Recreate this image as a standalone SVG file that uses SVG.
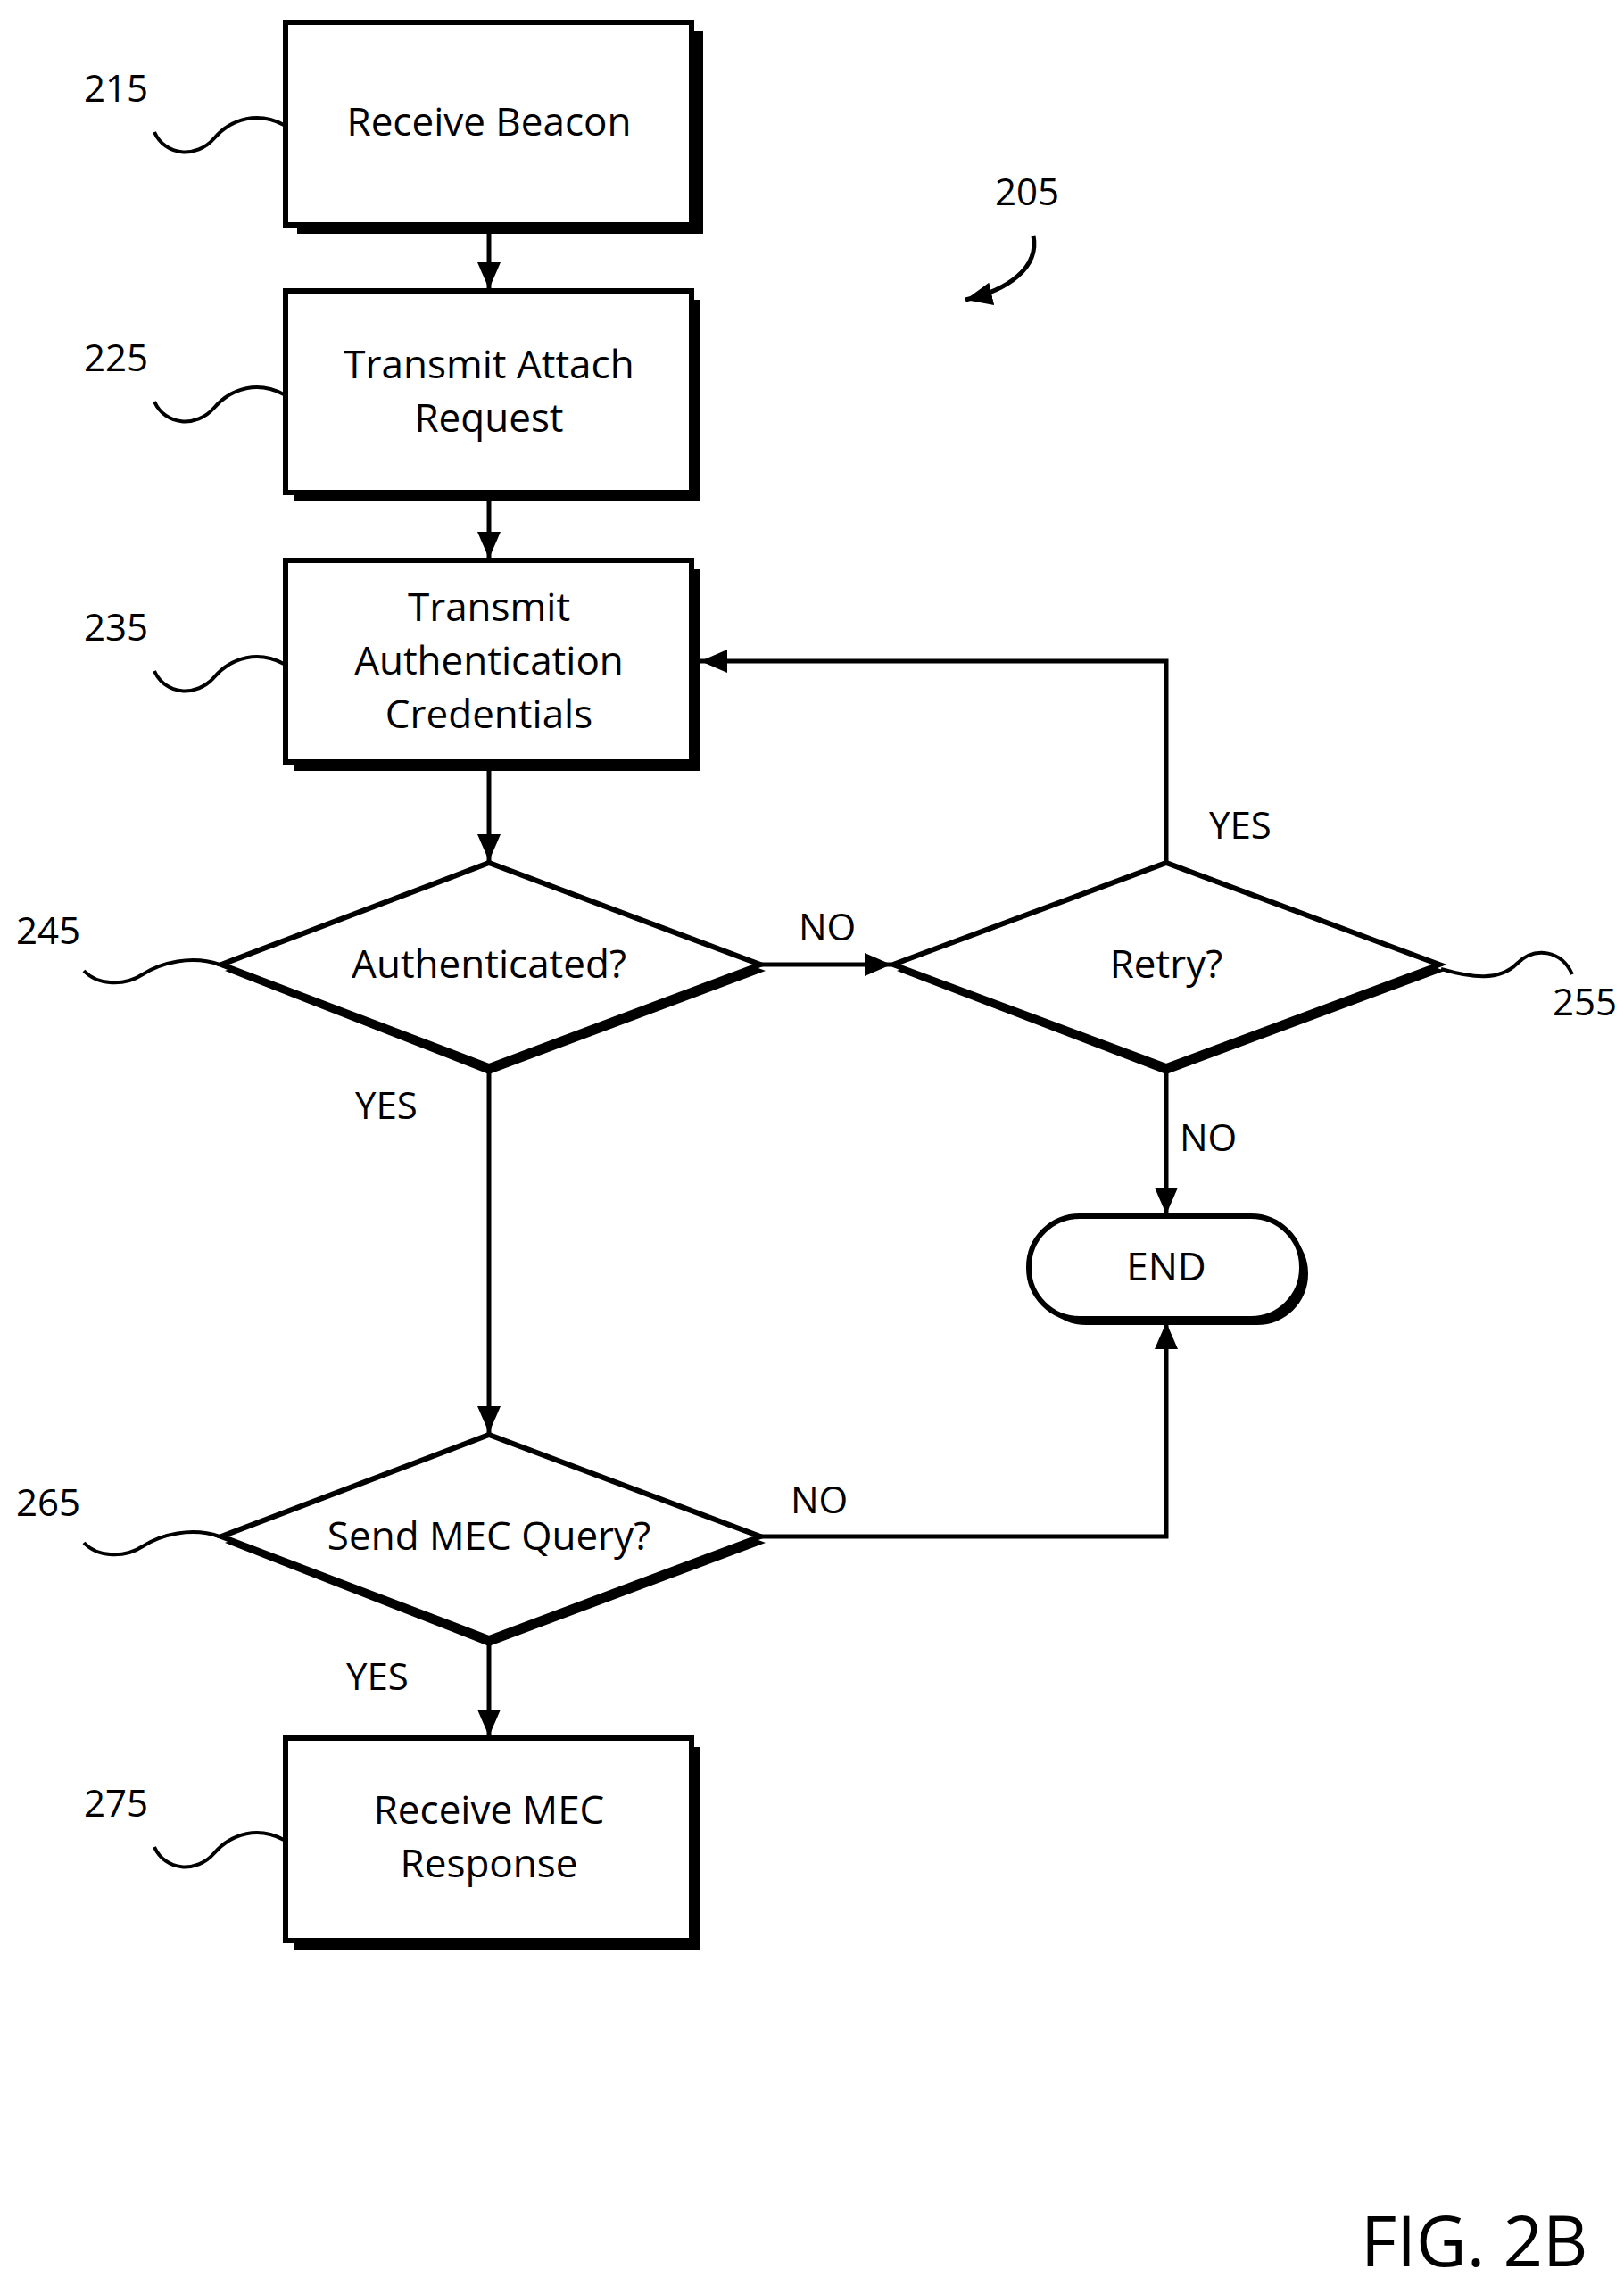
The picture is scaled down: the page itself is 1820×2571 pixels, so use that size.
<svg xmlns="http://www.w3.org/2000/svg" width="1820" height="2571" viewBox="0 0 1820 2571">
<style>
text{font-family:"Open Sans","Liberation Sans",sans-serif;fill:#000}
.t{font-size:44px;text-anchor:middle}
.n{font-size:42px}
.box{fill:#fff;stroke:#000;stroke-width:6}
.sh{fill:#000}
.c{fill:none;stroke:#000;stroke-width:5}
.sq{fill:none;stroke:#000;stroke-width:4}
</style>
<defs><marker id="a" viewBox="0 0 30 30" refX="30" refY="15" markerWidth="30" markerHeight="30" orient="auto" markerUnits="userSpaceOnUse"><path d="M0,2L30,15L0,28z"/></marker></defs>
<rect width="1820" height="2571" fill="#fff"/>
<g id="connectors">
<path class="c" d="M548,258V324" marker-end="url(#a)"/>
<path class="c" d="M548,558V626" marker-end="url(#a)"/>
<path class="c" d="M548,860V965" marker-end="url(#a)"/>
<path class="c" d="M852,1081H999" marker-end="url(#a)"/>
<path class="c" d="M1307,967V741H785" marker-end="url(#a)"/>
<path class="c" d="M1307,1195V1361" marker-end="url(#a)"/>
<path class="c" d="M548,1195V1606" marker-end="url(#a)"/>
<path class="c" d="M852,1722H1307V1482" marker-end="url(#a)"/>
<path class="c" d="M548,1836V1946" marker-end="url(#a)"/>
<path class="c" d="M1158,264C1165,300 1130,325 1082,336" marker-end="url(#a)"/>
<text class="n" x="1355" y="940">YES</text>
<text class="n" x="895" y="1054">NO</text>
<text class="n" x="398" y="1254">YES</text>
<text class="n" x="1322" y="1290">NO</text>
<text class="n" x="886" y="1696">NO</text>
<text class="n" x="388" y="1894">YES</text>
</g>
<g id="n215"><rect class="sh" x="333" y="35" width="455" height="227"/><rect class="box" x="320" y="25" width="455" height="227"/><text class="t" x="548" y="152">Receive Beacon</text><text class="n" x="94" y="114">215</text><path class="sq" d="M173,148C185,175 220,178 240,155S290,125 318,140"/></g>
<g id="n225"><rect class="sh" x="330" y="336" width="455" height="226"/><rect class="box" x="320" y="326" width="455" height="226"/><text class="t" x="548" y="424">Transmit Attach</text><text class="t" x="548" y="484">Request</text><text class="n" x="94" y="416">225</text><path class="sq" d="M173,450C185,477 220,480 240,457S290,427 318,442"/></g>
<g id="n235"><rect class="sh" x="330" y="638" width="455" height="226"/><rect class="box" x="320" y="628" width="455" height="226"/><text class="t" x="548" y="696">Transmit</text><text class="t" x="548" y="756">Authentication</text><text class="t" x="548" y="816">Credentials</text><text class="n" x="94" y="718">235</text><path class="sq" d="M173,752C185,779 220,782 240,759S290,729 318,744"/></g>
<g id="n245"><polygon class="sh" points="252,1088 548,974 858,1088 548,1204"/><polygon class="box" points="248,1081 548,967 852,1081 548,1195"/><text class="t" x="548" y="1096">Authenticated?</text><text class="n" x="18" y="1058">245</text><path class="sq" d="M94,1088C110,1105 140,1105 160,1092S215,1070 246,1081"/></g>
<g id="n255"><polygon class="sh" points="1005,1088 1307,974 1619,1088 1307,1204"/><polygon class="box" points="1001,1081 1307,967 1613,1081 1307,1195"/><text class="t" x="1307" y="1096">Retry?</text><text class="n" x="1740" y="1138">255</text><path class="sq" d="M1615,1086C1650,1096 1680,1100 1700,1080S1750,1065 1762,1092"/></g>
<g id="end"><rect class="sh" x="1160" y="1370" width="306" height="115" rx="57"/><rect class="box" x="1153" y="1363" width="306" height="115" rx="57"/><text class="t" x="1307" y="1435">END</text></g>
<g id="n265"><polygon class="sh" points="252,1729 548,1615 858,1729 548,1845"/><polygon class="box" points="248,1722 548,1608 852,1722 548,1836"/><text class="t" x="548" y="1737">Send MEC Query?</text><text class="n" x="18" y="1699">265</text><path class="sq" d="M94,1729C110,1746 140,1746 160,1733S215,1711 246,1722"/></g>
<g id="n275"><rect class="sh" x="330" y="1958" width="455" height="227"/><rect class="box" x="320" y="1948" width="455" height="227"/><text class="t" x="548" y="2044">Receive MEC</text><text class="t" x="548" y="2104">Response</text><text class="n" x="94" y="2036">275</text><path class="sq" d="M173,2070C185,2097 220,2100 240,2077S290,2047 318,2062"/></g>
<text class="n" x="1115" y="230">205</text>
<text x="1525" y="2540" style="font-size:78px">FIG. 2B</text>
</svg>
